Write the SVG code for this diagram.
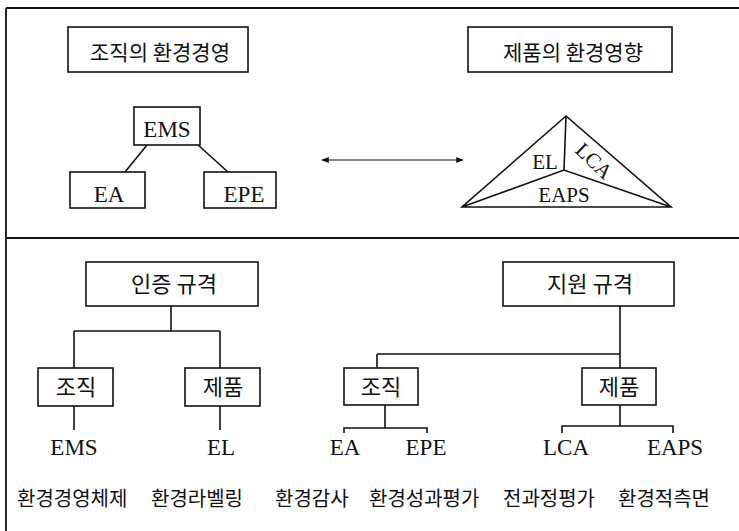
<svg xmlns="http://www.w3.org/2000/svg" width="739" height="531" viewBox="0 0 739 531">
<style>
.box{fill:#fff;stroke:#111;stroke-width:1.6}
.ln{fill:none;stroke:#111;stroke-width:1.6}
.kr{font-family:"Noto Sans CJK KR","Noto Sans",sans-serif;font-size:20px;fill:#111}
.kt{font-size:21px}
.kb{font-size:22px}
.en{font-family:"Liberation Serif","Times New Roman",serif;font-size:23px;fill:#111}
.tri{font-family:"Liberation Serif","Times New Roman",serif;font-size:21px;fill:#111}
</style>
<defs>
<marker id="ah" viewBox="0 0 10 8" refX="9" refY="4" markerWidth="9" markerHeight="6" orient="auto-start-reverse" markerUnits="userSpaceOnUse">
<path d="M0,0 L10,4 L0,8 z" fill="#111"/>
</marker>
</defs>
<g id="frame" class="ln">
<path d="M6,8 H739 M6,8 V531 M6,238 H739" stroke-width="1.8"/>
</g>
<g id="connectors" class="ln">
<path d="M147,145 L125,172 M198,145 L228,172"/>
<path d="M322,160 H463" stroke-width="1.2" marker-start="url(#ah)" marker-end="url(#ah)"/>
<path d="M171,306 V331 M74,331 H220 M74,331 V368 M220,331 V368"/>
<path d="M74,406 V430 M220,406 V430"/>
<path d="M620,306 V368 M377,354 H620 M377,354 V368"/>
<path d="M385,405 V428 M344,433 V428 H427 V433"/>
<path d="M620,405 V426 M562,433 V426 H673 V433"/>
</g>
<g id="org-title"><rect class="box" x="68" y="27" width="180" height="45"/><text class="kr kt" x="160" y="60" text-anchor="middle">조직의 환경경영</text></g>
<g id="prod-title"><rect class="box" x="468" y="27" width="204" height="45"/><text class="kr kt" x="573" y="60" text-anchor="middle">제품의 환경영향</text></g>
<g id="ems"><rect class="box" x="134" y="107" width="66" height="38"/><text class="en" x="167" y="137" text-anchor="middle">EMS</text></g>
<g id="ea"><rect class="box" x="70" y="172" width="75" height="36"/><text class="en" x="109" y="202" text-anchor="middle">EA</text></g>
<g id="epe"><rect class="box" x="204" y="172" width="72" height="36"/><text class="en" x="244" y="202" text-anchor="middle">EPE</text></g>
<g id="triangle">
<path class="ln" d="M566,116 L462,207 L671,207 Z M566,116 L564,170 M462,207 L564,170 L671,207"/>
<text class="tri" x="545" y="169" text-anchor="middle">EL</text>
<text class="tri" transform="translate(594,161) rotate(44)" y="7" text-anchor="middle">LCA</text>
<text class="tri" x="564" y="202" text-anchor="middle">EAPS</text>
</g>
<g id="cert"><rect class="box" x="86" y="262" width="172" height="44"/><text class="kr kb" x="174" y="292" text-anchor="middle">인증 규격</text></g>
<g id="support"><rect class="box" x="503" y="262" width="171" height="44"/><text class="kr kb" x="590" y="292" text-anchor="middle">지원 규격</text></g>
<g id="cert-org"><rect class="box" x="38" y="368" width="75" height="38"/><text class="kr kb" x="76" y="395" text-anchor="middle">조직</text></g>
<g id="cert-prod"><rect class="box" x="185" y="368" width="75" height="38"/><text class="kr kb" x="223" y="395" text-anchor="middle">제품</text></g>
<g id="sup-org"><rect class="box" x="344" y="368" width="74" height="37"/><text class="kr kb" x="381" y="395" text-anchor="middle">조직</text></g>
<g id="sup-prod"><rect class="box" x="582" y="368" width="74" height="37"/><text class="kr kb" x="619" y="395" text-anchor="middle">제품</text></g>
<g id="leaf-ems"><text class="en" x="74" y="455" text-anchor="middle">EMS</text></g>
<g id="leaf-el"><text class="en" x="221" y="455" text-anchor="middle">EL</text></g>
<g id="leaf-ea"><text class="en" x="345" y="455" text-anchor="middle">EA</text></g>
<g id="leaf-epe"><text class="en" x="426" y="455" text-anchor="middle">EPE</text></g>
<g id="leaf-lca"><text class="en" x="566" y="455" text-anchor="middle">LCA</text></g>
<g id="leaf-eaps"><text class="en" x="675" y="455" text-anchor="middle">EAPS</text></g>
<g id="bottom-row">
<text class="kr" x="17" y="506">환경경영체제</text>
<text class="kr" x="151" y="506">환경라벨링</text>
<text class="kr" x="275" y="506">환경감사</text>
<text class="kr" x="369" y="506">환경성과평가</text>
<text class="kr" x="503" y="506">전과정평가</text>
<text class="kr" x="618" y="506">환경적측면</text>
</g>
</svg>
